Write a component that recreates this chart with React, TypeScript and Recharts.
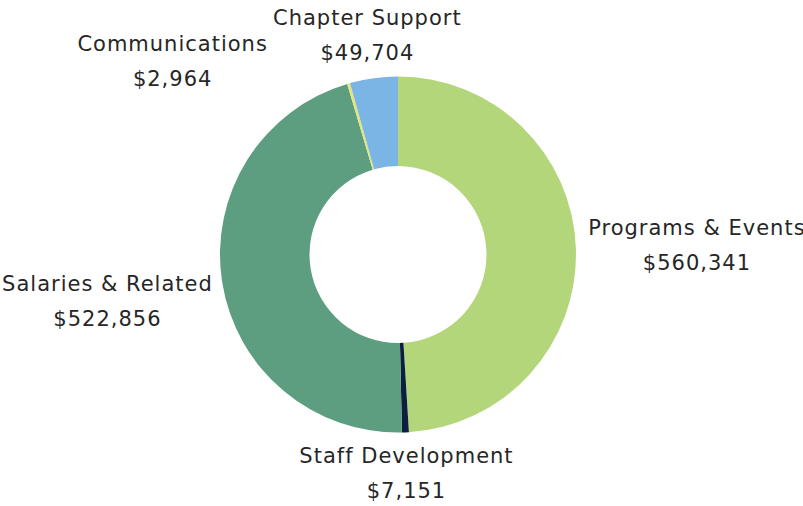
import { PieChart, Pie, Cell } from "recharts";

const categories = [
  "Programs & Events",
  "Staff Development",
  "Salaries & Related",
  "Communications",
  "Chapter Support",
];
const amounts = [560341, 7151, 522856, 2964, 49704];
const colors = ["#b3d67b", "#0c1f3d", "#5c9e7f", "#e4e67c", "#7ab5e6"];

// extra shift for each label, away from the point at its slice's mid angle
const labelNudge = [
  [96, -3],
  [0, 16],
  [-90, 15],
  [-169, 2],
  [-3, -18],
];

const data = categories.map((name, i) => ({ name, value: amounts[i] }));

const RAD = Math.PI / 180;

function renderLabel(props: any) {
  const { cx, cy, midAngle, outerRadius, index, name, value } = props;
  const r = outerRadius + 25;
  const x = cx + r * Math.cos(-midAngle * RAD) + labelNudge[index][0];
  const y = cy + r * Math.sin(-midAngle * RAD) + labelNudge[index][1];
  return (
    <text
      x={x}
      y={y}
      textAnchor="middle"
      fill="#262626"
      fontSize={21}
      letterSpacing={1}
      fontFamily="'DejaVu Sans', sans-serif"
    >
      <tspan x={x} dy={-10}>
        {name}
      </tspan>
      <tspan x={x} dy={35}>
        ${value.toLocaleString("en-US")}
      </tspan>
    </text>
  );
}

export default function App() {
  return (
    <div style={{ position: "absolute", left: 0, top: 0, width: 803, height: 506, background: "#fff" }}>
      <PieChart width={803} height={506} margin={{ top: 0, right: 0, bottom: 0, left: 0 }}>
        <Pie
          data={data}
          dataKey="value"
          nameKey="name"
          cx={398}
          cy={254.5}
          outerRadius={178}
          innerRadius={88.5}
          startAngle={90}
          endAngle={-270}
          stroke="none"
          label={renderLabel}
          labelLine={false}
          isAnimationActive={false}
        >
          {data.map((d, i) => (
            <Cell key={d.name} fill={colors[i]} />
          ))}
        </Pie>
      </PieChart>
    </div>
  );
}
